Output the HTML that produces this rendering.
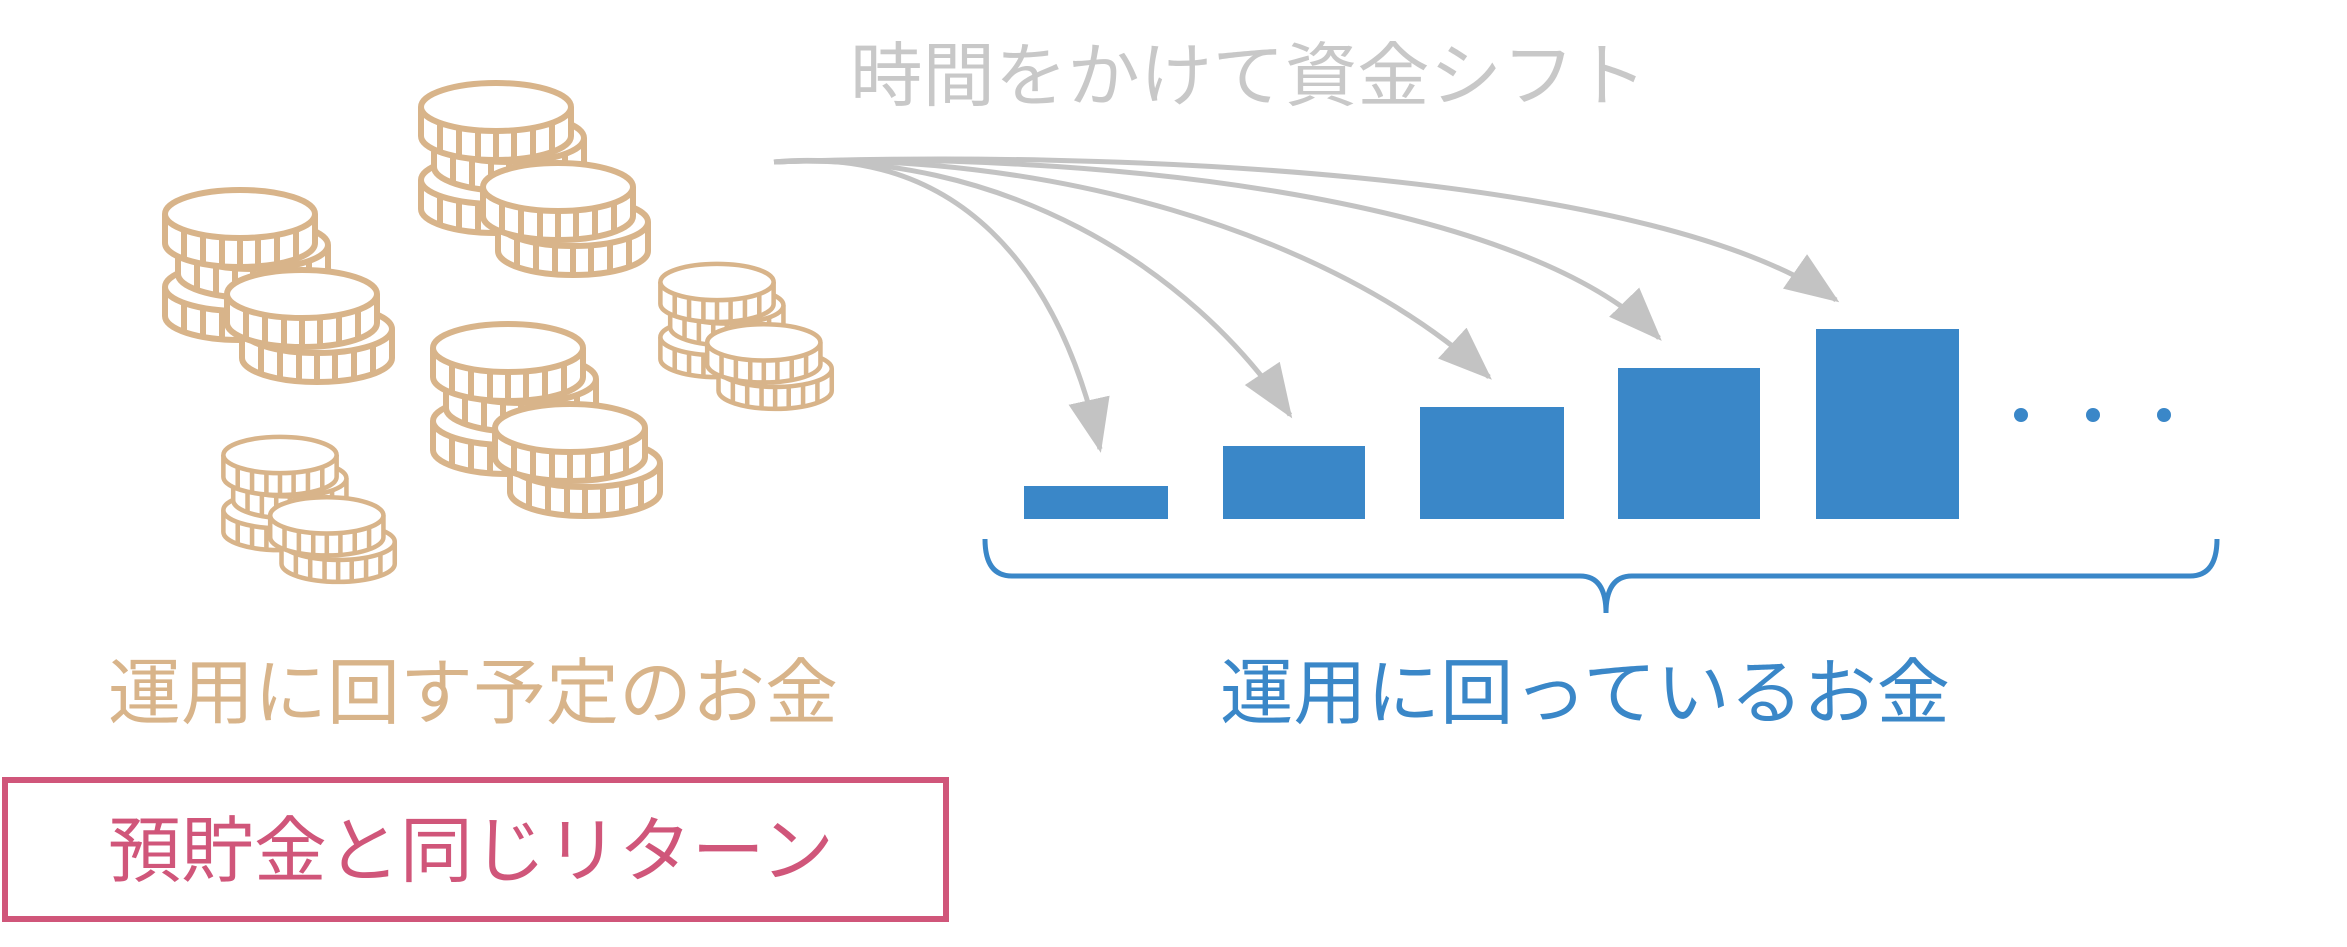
<!DOCTYPE html>
<html><head><meta charset="utf-8"><style>
html,body{margin:0;padding:0;background:#fff;}
svg{display:block;}
text{font-family:"Liberation Sans","Noto Sans CJK JP",sans-serif;}
</style></head><body>
<svg width="2347" height="947" viewBox="0 0 2347 947" xmlns="http://www.w3.org/2000/svg">
<defs>
<g id="coin" fill="#fff" stroke="#d8b48a" stroke-width="6" stroke-linejoin="round">
  <path d="M-75,0 L-75,29 A75,24 0 0 0 75,29 L75,0"/>
  <ellipse cx="0" cy="0" rx="75" ry="24"/>
  <path d="M-56,16 v29 M-37,21 v29 M-18,23.5 v29 M0,24 v29 M18,23.5 v29 M37,21 v29 M56,16 v29"/>
</g>
<g id="stack">
  <use href="#coin" transform="translate(0,73)"/>
  <use href="#coin" transform="translate(13,31)"/>
  <use href="#coin" transform="translate(0,0)"/>
  <use href="#coin" transform="translate(77,115)"/>
  <use href="#coin" transform="translate(62,80)"/>
</g>
<marker id="ah" markerUnits="userSpaceOnUse" markerWidth="60" markerHeight="46" refX="50" refY="21" orient="auto">
  <path d="M0,0 L54,21 L0,42 Z" fill="#c3c3c3"/>
</marker>
</defs>

<use href="#stack" transform="translate(240,214)"/>
<use href="#stack" transform="translate(496,107)"/>
<use href="#stack" transform="translate(508,348)"/>
<use href="#stack" transform="translate(717,282) scale(0.755)"/>
<use href="#stack" transform="translate(280,455) scale(0.755)"/>

<text x="850" y="100" font-size="70" fill="#c8c8c8" textLength="797" lengthAdjust="spacingAndGlyphs">時間をかけて資金シフト</text>

<g fill="none" stroke="#c3c3c3" stroke-width="5" marker-end="url(#ah)">
  <path d="M774,162 C 960,145 1060,270 1100,449"/>
  <path d="M774,162 C 1000,150 1190,265 1290,415"/>
  <path d="M774,162 C 1040,150 1330,230 1489,377"/>
  <path d="M774,162 C 1080,150 1520,195 1659,338"/>
  <path d="M774,162 C 1100,150 1650,170 1836,300"/>
</g>

<g fill="#3a87c8">
  <rect x="1024" y="486" width="144" height="33"/>
  <rect x="1223" y="446" width="142" height="73"/>
  <rect x="1420" y="407" width="144" height="112"/>
  <rect x="1618" y="368" width="142" height="151"/>
  <rect x="1816" y="329" width="143" height="190"/>
  <circle cx="2021" cy="415" r="7"/>
  <circle cx="2093" cy="415" r="7"/>
  <circle cx="2164" cy="415" r="7"/>
</g>

<path d="M985,539 Q985,576 1012,576 L1580,576 Q1606,576 1606,613 Q1606,576 1632,576 L2190,576 Q2217,576 2217,539" fill="none" stroke="#3a87c8" stroke-width="5"/>

<text x="108" y="718" font-size="72" fill="#d8b48a" textLength="730" lengthAdjust="spacingAndGlyphs">運用に回す予定のお金</text>
<text x="1220" y="718" font-size="72" fill="#3a87c8" textLength="730" lengthAdjust="spacingAndGlyphs">運用に回っているお金</text>

<rect x="5" y="780" width="941" height="139" fill="#fff" stroke="#d0567a" stroke-width="6"/>
<text x="108" y="876" font-size="72" fill="#d0567a" textLength="726" lengthAdjust="spacingAndGlyphs">預貯金と同じリターン</text>
</svg>
</body></html>
